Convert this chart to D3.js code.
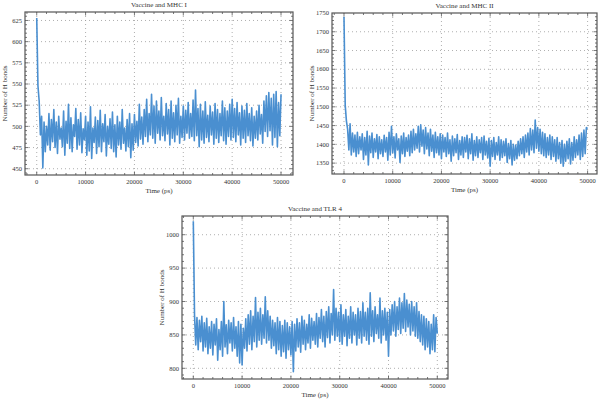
<!DOCTYPE html>
<html>
<head>
<meta charset="utf-8">
<script src="https://cdn.jsdelivr.net/npm/d3@7"></script>
<style>
  body { margin: 0; background: #fff; }
  svg { display: block; font-family: "Liberation Serif", "DejaVu Serif", serif; }
  .grid line { stroke: #9a9a9a; stroke-width: 0.8; stroke-dasharray: 1,3; }
  .frame { fill: none; stroke: #555; stroke-width: 1.2; }
  .tick-mark { stroke: #555; stroke-width: 0.8; }
  .tick-label { font-size: 6.5px; fill: #333; }
  .title, .axis-label { font-size: 7px; fill: #333; }
</style>
</head>
<body>
<svg width="600" height="400"></svg>
<script>
// sampling step of the trajectories (ps)
const timeStep = 250;

const mhc1Values = [
  628, 548, 530, 490, 512, 451, 505, 470, 500, 478, 515, 472, 508, 482, 520, 475, 505, 468, 512, 485,
  498, 476, 518, 466, 506, 480, 526, 474, 510, 470, 502, 488, 521, 473, 508, 478, 516, 469, 497, 484,
  512, 466, 505, 471, 523, 462, 498, 481, 511, 468, 507, 476, 519, 470, 503, 482, 514, 465, 500, 479,
  509, 474, 517, 470, 502, 464, 512, 478, 505, 473, 520, 480, 498, 471, 508, 476, 515, 463, 503, 472,
  514, 481, 506, 477, 526, 485, 511, 479, 520, 488, 532, 482, 515, 490, 538, 486, 524, 480, 530, 492,
  518, 484, 534, 489, 512, 483, 527, 491, 520, 478, 530, 486, 516, 482, 525, 490, 533, 480, 512, 487,
  524, 484, 519, 492, 528, 486, 515, 488, 531, 483, 543, 489, 521, 476, 526, 484, 518, 480, 529, 487,
  513, 482, 524, 490, 517, 479, 527, 486, 520, 481, 515, 489, 530, 483, 522, 479, 518, 488, 526, 484,
  532, 487, 521, 482, 528, 490, 516, 478, 524, 486, 519, 481, 527, 489, 515, 483, 522, 477, 512, 486,
  518, 484, 525, 491, 514, 480, 530, 494, 536, 488, 540, 495, 533, 478, 538, 487, 541, 476, 528, 489,
  538
];

const mhc2Values = [
  1740, 1505, 1462, 1440, 1385, 1455, 1372, 1430, 1380, 1425, 1368, 1432, 1375, 1420, 1385, 1428, 1360, 1418, 1372, 1435,
  1345, 1422, 1378, 1430, 1365, 1415, 1380, 1426, 1362, 1420, 1375, 1412, 1368, 1424, 1380, 1418, 1358, 1432, 1372, 1448,
  1378, 1420, 1364, 1428, 1385, 1415, 1352, 1422, 1375, 1430, 1368, 1418, 1382, 1425, 1370, 1435, 1378, 1440, 1385, 1428,
  1390, 1448, 1380, 1452, 1395, 1438, 1375, 1445, 1388, 1430, 1370, 1440, 1382, 1425, 1365, 1432, 1378, 1420, 1372, 1428,
  1362, 1425, 1380, 1418, 1368, 1430, 1375, 1412, 1355, 1422, 1370, 1415, 1378, 1426, 1360, 1410, 1372, 1420, 1365, 1418,
  1380, 1424, 1362, 1415, 1375, 1428, 1358, 1410, 1370, 1420, 1365, 1412, 1378, 1418, 1360, 1422, 1372, 1408, 1364, 1416,
  1342, 1410, 1368, 1418, 1360, 1405, 1372, 1420, 1358, 1412, 1365, 1408, 1370, 1415, 1352, 1402, 1362, 1410, 1345, 1400,
  1358, 1398, 1362, 1408, 1370, 1415, 1375, 1420, 1365, 1425, 1380, 1430, 1372, 1442, 1385, 1438, 1378, 1465, 1390, 1445,
  1382, 1440, 1375, 1432, 1370, 1428, 1365, 1418, 1372, 1425, 1360, 1420, 1368, 1412, 1355, 1418, 1362, 1405, 1350, 1410,
  1342, 1400, 1355, 1408, 1362, 1415, 1348, 1405, 1358, 1420, 1365, 1412, 1372, 1425, 1360, 1430, 1368, 1438, 1375, 1445,
  1442
];

const tlr4Values = [
  1020, 880, 835, 876, 828, 872, 840, 878, 826, 868, 832, 875, 822, 862, 830, 870, 820, 866, 835, 874,
  812, 858, 828, 870, 818, 900, 832, 865, 822, 872, 838, 868, 826, 876, 830, 862, 818, 870, 808, 866,
  805, 860, 830, 874, 826, 880, 836, 886, 828, 878, 840, 906, 832, 884, 842, 890, 836, 880, 845, 907,
  838, 886, 842, 878, 830, 872, 834, 868, 822, 876, 828, 870, 818, 864, 825, 872, 815, 868, 828, 862,
  820, 870, 795, 866, 826, 874, 832, 868, 824, 878, 836, 872, 828, 866, 838, 880, 830, 875, 842, 870,
  836, 882, 832, 876, 845, 888, 840, 878, 832, 885, 846, 892, 838, 882, 850, 918, 842, 890, 848, 884,
  840, 895, 836, 880, 848, 888, 834, 878, 845, 892, 838, 884, 850, 880, 835, 890, 845, 885, 838, 898,
  848, 884, 842, 890, 836, 913, 848, 886, 840, 892, 852, 880, 845, 905, 838, 886, 850, 890, 842, 884,
  818, 888, 850, 895, 856, 900, 848, 892, 858, 905, 852, 898, 860, 912, 855, 902, 862, 896, 850, 900,
  856, 892, 848, 898, 845, 885, 840, 880, 835, 878, 828, 874, 832, 870, 822, 866, 828, 880, 825, 876,
  852
];

const xTicks = [0, 10000, 20000, 30000, 40000, 50000];
const mhc1Ticks = [450, 475, 500, 525, 550, 575, 600, 625];
const mhc2Ticks = [1350, 1400, 1450, 1500, 1550, 1600, 1650, 1700, 1750];
const tlr4Ticks = [800, 850, 900, 950, 1000];

const panels = [
  {title: "Vaccine and MHC I", values: mhc1Values, yTicks: mhc1Ticks, yMinor: 5,
   box: {left: 25, right: 293, top: 12, bottom: 175}, xDom: [-2400, 52450], yDom: [442.6, 635]},
  {title: "Vaccine and MHC II", values: mhc2Values, yTicks: mhc2Ticks, yMinor: 10,
   box: {left: 332, right: 597, top: 13, bottom: 174}, xDom: [-2460, 51930], yDom: [1321, 1750]},
  {title: "Vaccine and TLR 4", values: tlr4Values, yTicks: tlr4Ticks, yMinor: 10,
   box: {left: 182, right: 448, top: 216, bottom: 379}, xDom: [-2316, 52190], yDom: [784, 1028]}
];

const svg = d3.select("svg");

panels.forEach(p => {
  const b = p.box;
  const x = d3.scaleLinear().domain(p.xDom).range([b.left, b.right]);
  const y = d3.scaleLinear().domain(p.yDom).range([b.bottom, b.top]);
  const g = svg.append("g");

  // dotted grid
  const grid = g.append("g").attr("class", "grid");
  grid.selectAll(".gx").data(xTicks).enter().append("line")
    .attr("x1", d => x(d)).attr("x2", d => x(d))
    .attr("y1", b.top).attr("y2", b.bottom);
  grid.selectAll(".gy").data(p.yTicks.filter(d => y(d) > b.top + 1)).enter().append("line")
    .attr("x1", b.left).attr("x2", b.right)
    .attr("y1", d => y(d)).attr("y2", d => y(d));

  // series: a lighter wide stroke for the spikes, the denser core on top
  const line = d3.line()
    .x((d, i) => x(i * timeStep))
    .y(d => y(d));
  g.append("path")
    .datum(p.values)
    .attr("d", line)
    .attr("fill", "none")
    .attr("stroke", "#4a8fd0")
    .attr("stroke-width", 1.6)
    .attr("stroke-linejoin", "round");

  // frame
  g.append("rect").attr("class", "frame")
    .attr("x", b.left).attr("y", b.top)
    .attr("width", b.right - b.left).attr("height", b.bottom - b.top);

  // ticks on all four sides, major + minor
  const xMinor = d3.range(p.xDom[0] - p.xDom[0] % 2000, p.xDom[1], 2000).filter(d => d > p.xDom[0]);
  const yStep = p.yMinor;
  const yMinor = d3.range(Math.ceil(p.yDom[0] / yStep) * yStep, p.yDom[1], yStep);
  const tk = g.append("g");
  xMinor.forEach(d => {
    const len = d % 10000 === 0 ? 3.5 : 2;
    tk.append("line").attr("class", "tick-mark")
      .attr("x1", x(d)).attr("x2", x(d)).attr("y1", b.bottom).attr("y2", b.bottom - len);
    tk.append("line").attr("class", "tick-mark")
      .attr("x1", x(d)).attr("x2", x(d)).attr("y1", b.top).attr("y2", b.top + len);
  });
  yMinor.forEach(d => {
    const len = p.yTicks.includes(d) ? 3.5 : 2;
    tk.append("line").attr("class", "tick-mark")
      .attr("x1", b.left).attr("x2", b.left + len).attr("y1", y(d)).attr("y2", y(d));
    tk.append("line").attr("class", "tick-mark")
      .attr("x1", b.right).attr("x2", b.right - len).attr("y1", y(d)).attr("y2", y(d));
  });

  // tick labels
  g.selectAll(".xl").data(xTicks).enter().append("text")
    .attr("class", "tick-label")
    .attr("x", d => x(d)).attr("y", b.bottom + 9)
    .attr("text-anchor", "middle")
    .text(d => d);
  g.selectAll(".yl").data(p.yTicks).enter().append("text")
    .attr("class", "tick-label")
    .attr("x", b.left - 3).attr("y", d => y(d) + 2.2)
    .attr("text-anchor", "end")
    .text(d => d);

  // titles
  g.append("text").attr("class", "title")
    .attr("x", (b.left + b.right) / 2).attr("y", b.top - 5)
    .attr("text-anchor", "middle").text(p.title);
  g.append("text").attr("class", "axis-label")
    .attr("x", (b.left + b.right) / 2).attr("y", b.bottom + 18)
    .attr("text-anchor", "middle").text("Time (ps)");
  g.append("text").attr("class", "axis-label")
    .attr("transform", `translate(${b.left - 18},${(b.top + b.bottom) / 2}) rotate(-90)`)
    .attr("text-anchor", "middle").text("Number of H bonds");
});
</script>
</body>
</html>
